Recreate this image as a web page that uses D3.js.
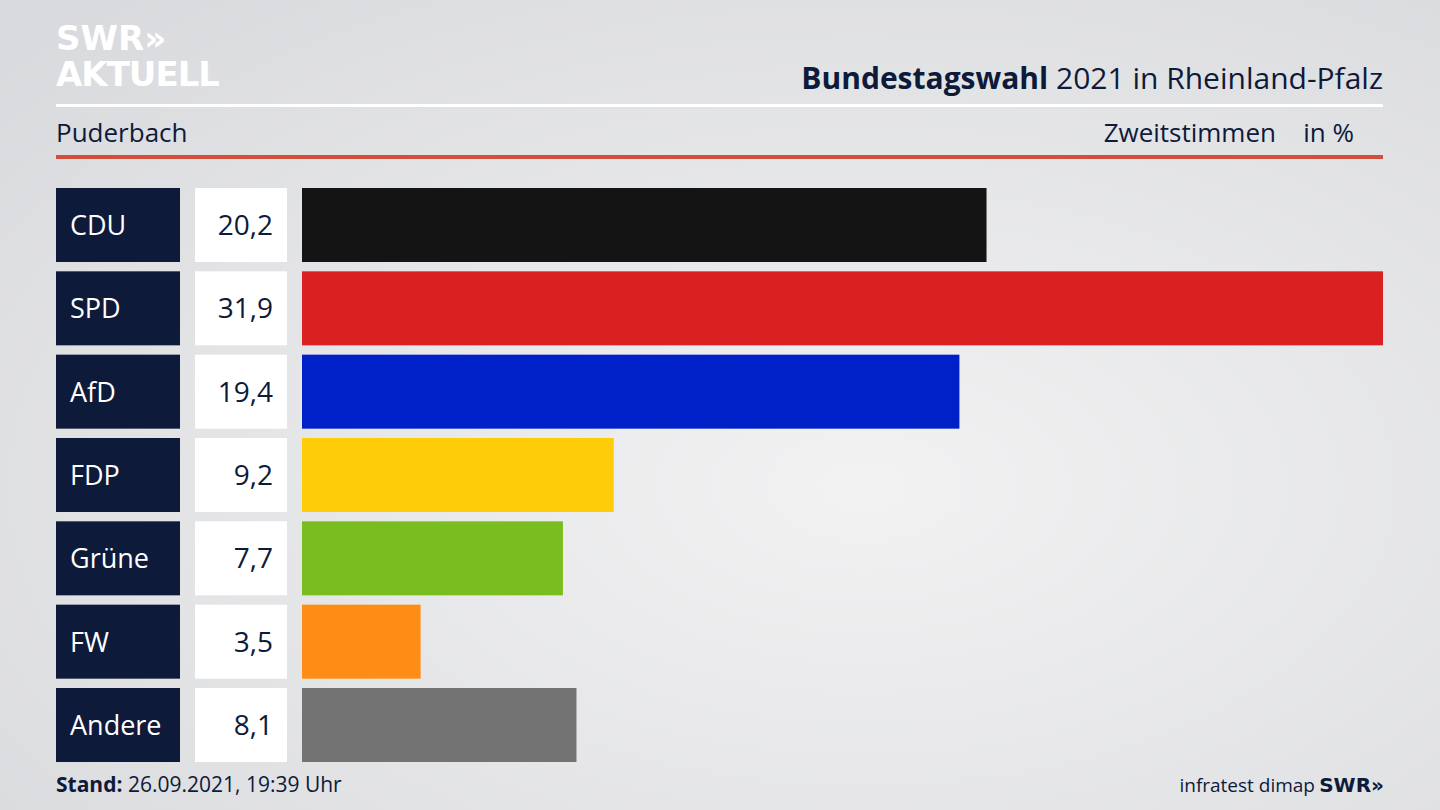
<!DOCTYPE html>
<html><head><meta charset="utf-8">
<script src="https://cdn.jsdelivr.net/npm/d3@7"></script>
<style>body{margin:0;}svg{display:block;font-family:"Open Sans","Noto Sans",sans-serif;}</style>
</head><body><svg id="c" width="1440" height="810"></svg>
<script>
const parties = ["CDU","SPD","AfD","FDP","Grüne","FW","Andere"];
const values = [20.2,31.9,19.4,9.2,7.7,3.5,8.1];
const labels = ["20,2","31,9","19,4","9,2","7,7","3,5","8,1"];
const colors = ["#141414","#d92121","#0021c8","#ffcc0a","#79be1e","#ff8c14","#737373"];

const svg = d3.select("#c");
const defs = svg.append("defs");
const g = defs.append("radialGradient").attr("id","bg").attr("cx","60%").attr("cy","60%").attr("r","80%");
g.append("stop").attr("offset","0").attr("stop-color","#f2f2f3");
g.append("stop").attr("offset","1").attr("stop-color","#d9dadd");
svg.append("rect").attr("width",1440).attr("height",810).attr("fill","url(#bg)");

svg.append("text").attr("x",56).attr("y",50).attr("fill","#fff").attr("font-size",34).attr("font-weight",900).attr("font-family","DejaVu Sans").text("SWR»");
svg.append("text").attr("x",56).attr("y",86).attr("fill","#fff").attr("font-size",34).attr("font-weight",900).attr("font-family","DejaVu Sans").attr("textLength",164).text("AKTUELL");

const t = svg.append("text").attr("x",1383).attr("y",89).attr("text-anchor","end").attr("font-size",30).attr("fill","#0d1a3a");
t.append("tspan").attr("font-weight",700).text("Bundestagswahl");
t.append("tspan").text(" 2021 in Rheinland-Pfalz");
svg.append("rect").attr("x",56).attr("y",104).attr("width",1327).attr("height",3).attr("fill","#fff");
svg.append("text").attr("x",56).attr("y",142).attr("font-size",26).attr("fill","#0d1a3a").text("Puderbach");
svg.append("text").attr("x",1276).attr("y",142).attr("text-anchor","end").attr("font-size",26).attr("fill","#0d1a3a").text("Zweitstimmen");
svg.append("text").attr("x",1354).attr("y",142).attr("text-anchor","end").attr("font-size",26).attr("fill","#0d1a3a").text("in %");
svg.append("rect").attr("x",56).attr("y",155).attr("width",1327).attr("height",4).attr("fill","#d0503c");

const y = d3.scaleBand().domain(parties).range([188,762]).paddingInner(0.112).paddingOuter(0);
const x = d3.scaleLinear().domain([0,31.9]).range([302,1383]);

const rows = svg.selectAll("g.r").data(parties).join("g");
rows.append("rect").attr("x",56).attr("y",d=>y(d)).attr("width",124).attr("height",y.bandwidth()).attr("fill","#0e1a3a");
rows.append("text").attr("x",70).attr("y",d=>y(d)+y.bandwidth()/2+10).attr("font-size",27).attr("fill","#fff").text(d=>d);
rows.append("rect").attr("x",195).attr("y",d=>y(d)).attr("width",92).attr("height",y.bandwidth()).attr("fill","#fff");
rows.append("text").attr("x",273).attr("y",d=>y(d)+y.bandwidth()/2+10).attr("text-anchor","end").attr("font-size",28).attr("fill","#0e1a3a").text((d,i)=>labels[i]);
rows.append("rect").attr("x",x(0)).attr("y",d=>y(d)).attr("width",(d,i)=>x(values[i])-x(0)).attr("height",y.bandwidth()).attr("fill",(d,i)=>colors[i]);

const f = svg.append("text").attr("x",56).attr("y",792).attr("font-size",21).attr("fill","#0d1a3a");
f.append("tspan").attr("font-weight",700).text("Stand:");
f.append("tspan").text(" 26.09.2021, 19:39 Uhr");
svg.append("text").attr("x",1315).attr("y",792).attr("text-anchor","end").attr("font-size",19).attr("fill","#0d1a3a").text("infratest dimap");
svg.append("text").attr("x",1384).attr("y",792).attr("text-anchor","end").attr("font-size",20).attr("font-weight",900).attr("fill","#0d1a3a").attr("font-family","DejaVu Sans").text("SWR»");
</script></body></html>
